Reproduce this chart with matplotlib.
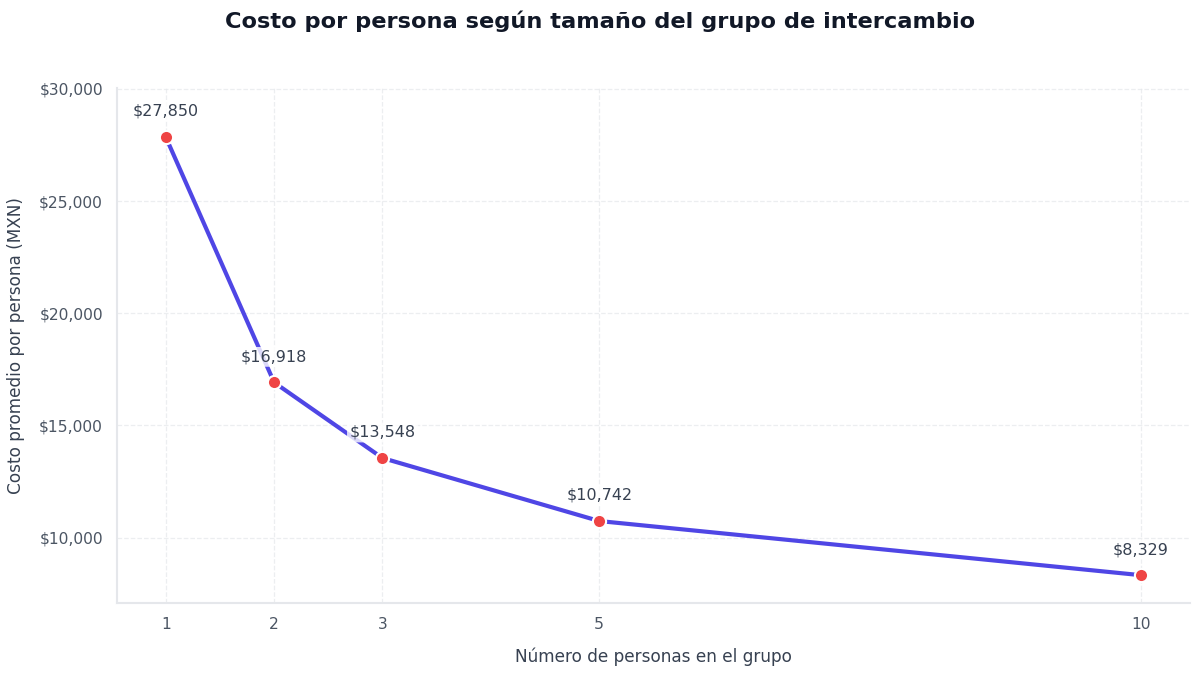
import matplotlib
matplotlib.use('Agg')
import matplotlib.pyplot as plt
from matplotlib.ticker import FuncFormatter

group_sizes = [1, 2, 3, 5, 10]
cost_per_person = [27850, 16918, 13548, 10742, 8329]

fig = plt.figure(figsize=(12, 6.74), dpi=100)
ax = fig.add_axes([0.0975, 0.105, 0.894, 0.764])

ax.plot(group_sizes, cost_per_person, color='#4f46e5', linewidth=3, zorder=2)
ax.plot(group_sizes, cost_per_person, 'o', color='#ef4444', markersize=9.5,
        markeredgecolor='white', markeredgewidth=1.5, zorder=3)

for x, y in zip(group_sizes, cost_per_person):
    ax.annotate(f"${y:,}", (x, y), xytext=(0, 13), textcoords='offset points',
                ha='center', va='bottom', fontsize=11.5, color='#374151',
                bbox=dict(boxstyle='round,pad=0.15', fc='white', ec='none', alpha=0.8),
                zorder=4)

ax.set_xlim(0.55, 10.45)
ax.set_ylim(min(cost_per_person) * 0.85, max(cost_per_person) * 1.078)
ax.set_xticks(group_sizes)
ax.set_yticks([10000, 15000, 20000, 25000, 30000])
ax.yaxis.set_major_formatter(FuncFormatter(lambda v, p: f"${v:,.0f}"))

ax.grid(True, linestyle='--', color='#e5e7eb', linewidth=0.9, alpha=0.7)
ax.set_axisbelow(True)
for side in ['top', 'right']:
    ax.spines[side].set_visible(False)
for side in ['left', 'bottom']:
    ax.spines[side].set_color('#e5e7eb')
    ax.spines[side].set_linewidth(1.5)
ax.tick_params(length=0, labelsize=11.2, colors='#4b5563', pad=10)

ax.set_xlabel("Número de personas en el grupo", fontsize=12.2, color='#374151', labelpad=11)
ax.set_ylabel("Costo promedio por persona (MXN)", fontsize=12.2, color='#374151', labelpad=10)
fig.suptitle("Costo por persona según tamaño del grupo de intercambio",
             fontsize=16.2, fontweight='bold', color='#111827', y=0.985)

fig.savefig('out.png', dpi=100)
